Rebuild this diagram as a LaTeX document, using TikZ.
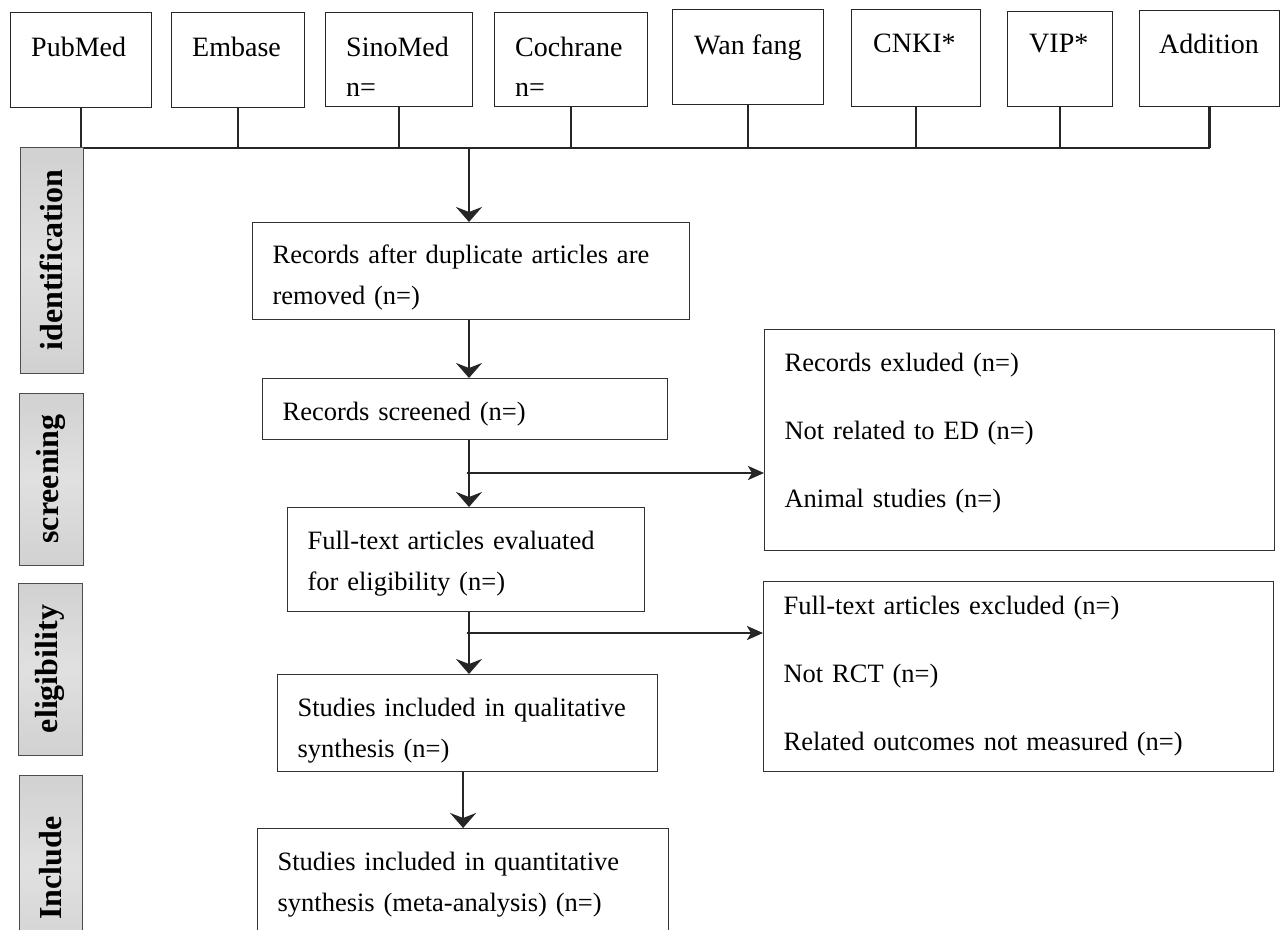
\documentclass[tikz,border=0pt]{standalone}
\usepackage{fontspec}
\setmainfont{Liberation Serif}
\usepackage{tikz}
\usetikzlibrary{arrows.meta}

\tikzset{
  srcbox/.style={draw=black!85, line width=1.3pt, anchor=north west, inner sep=0pt},
  srctext/.style={anchor=base west, inner sep=0pt, font=\fontsize{28}{28}\selectfont},
  flowbox/.style={draw=black!80, line width=1.2pt, anchor=north west, align=left,
    inner xsep=20pt, inner ysep=0pt, font=\fontsize{26.5}{41}\selectfont},
  exclbox/.style={flowbox, font=\fontsize{26.5}{68}\selectfont},
  stage/.style={draw=black!70, line width=1pt, rotate=90, inner sep=0pt,
    top color=gray!36, bottom color=gray!36, middle color=gray!24,
    font=\bfseries\fontsize{32}{32}\selectfont},
  link/.style={line width=2.5pt, draw=black!85},
  varrow/.style={link, -{Stealth[length=15pt, width=26pt, inset=5pt]}},
  harrow/.style={link, -{Stealth[length=16pt, width=14pt, inset=4pt]}},
}
% raise or lower the text block inside a box
\newcommand{\uplift}[1]{\rule{0pt}{#1}}
\newcommand{\downdrop}[1]{\rule[-#1]{0pt}{0pt}}

\begin{document}
\begin{tikzpicture}[x=1pt, y=-1pt]
                \useasboundingbox (0,0) rectangle (1281,929);
                % databases
                \node[srcbox, minimum width=141pt, minimum height=95pt] (pub) at (10,12) {};
                \node[srcbox, minimum width=133pt, minimum height=95pt] (emb) at (171,12) {};
                \node[srcbox, minimum width=147pt, minimum height=94pt] (sino) at (325,12) {};
                \node[srcbox, minimum width=153pt, minimum height=94pt] (coch) at (494,12) {};
                \node[srcbox, minimum width=151pt, minimum height=95pt] (wan) at (672,9) {};
                \node[srcbox, minimum width=129pt, minimum height=97pt] (cnki) at (851,9) {};
                \node[srcbox, minimum width=105pt, minimum height=95pt] (vip) at (1007,11) {};
                \node[srcbox, minimum width=140pt, minimum height=96pt] (add) at (1139,10) {};
                \node[srctext] (pubT) at (31,56) {PubMed};
                \node[srctext] (embT) at (192,56) {Embase};
                \node[srctext] (sinoT) at (346,56) {SinoMed};
                \node[srctext] (sinoN) at (346,96) {n=};
                \node[srctext] (cochT) at (515,56) {Cochrane};
                \node[srctext] (cochN) at (515,96) {n=};
                \node[srctext] (wanT) at (694,54) {Wan fang};
                \node[srctext] (cnkiT) at (873,52) {CNKI*};
                \node[srctext] (vipT) at (1029,52) {VIP*};
                \node[srctext] (addT) at (1159,53) {Addition};
                % bus line
                \coordinate (bus) at (469,148);
                \foreach \db in {pub, emb, sino, coch, wan, cnki, vip, add}
                    \draw[link] (\db.south) -- (\db.south |- bus);
                \draw[link] (pub.south |- bus) -- (add.south |- bus);
                % stages
                \node[stage, minimum width=226pt, minimum height=63pt] (ident) at (51.5,260) {identification};
                \node[stage, minimum width=172pt, minimum height=64pt] (screen) at (51,479) {screening};
                \node[stage, minimum width=172pt, minimum height=64pt] (elig) at (50,669) {eligibility};
                \node[stage, minimum width=186pt, minimum height=63pt] (incl) at (50.5,868) {Include};
                % flow
                \node[flowbox, text width=397pt, minimum height=97pt] (dup) at (252,222)
                    {\uplift{32pt}Records after duplicate articles are\\ removed (n=)};
                \node[flowbox, text width=365pt, minimum height=61pt] (scr) at (262,378)
                    {\uplift{28pt}Records screened (n=)};
                \node[flowbox, text width=317pt, minimum height=104pt] (full) at (287,507)
                    {\uplift{26pt}Full-text articles evaluated\\ for eligibility (n=)};
                \node[flowbox, text width=340pt, minimum height=97pt] (qual) at (277,674)
                    {\uplift{34pt}Studies included in qualitative\\ synthesis (n=)};
                \node[flowbox, text width=371pt, minimum height=113pt] (quant) at (257,828)
                    {Studies included in quantitative\\ synthesis (meta-analysis) (n=)};
                \node[exclbox, text width=470pt, minimum height=221pt] (exc1) at (764,329)
                    {Records exluded (n=)\\ Not related to ED (n=)\\ Animal studies (n=)\downdrop{20pt}};
                \node[exclbox, text width=470pt, minimum height=190pt] (exc2) at (763,581)
                    {Full-text articles excluded (n=)\\ Not RCT (n=)\\ Related outcomes not measured (n=)};
                % arrows
                \draw[varrow] (bus) -- (bus |- dup.north);
                \draw[varrow] (dup.south -| bus) -- (scr.north -| bus);
                \draw[varrow] (scr.south -| bus) -- (full.north -| bus);
                \draw[varrow] (full.south -| bus) -- (qual.north -| bus);
                \draw[varrow] (qual.south -| quant.north) -- (quant.north);
                \coordinate (br1) at (467,473);
                \coordinate (br2) at (467,633);
                \draw[harrow] (br1) -- (br1 -| exc1.west);
                \draw[harrow] (br2) -- (br2 -| exc2.west);
\end{tikzpicture}
\end{document}
